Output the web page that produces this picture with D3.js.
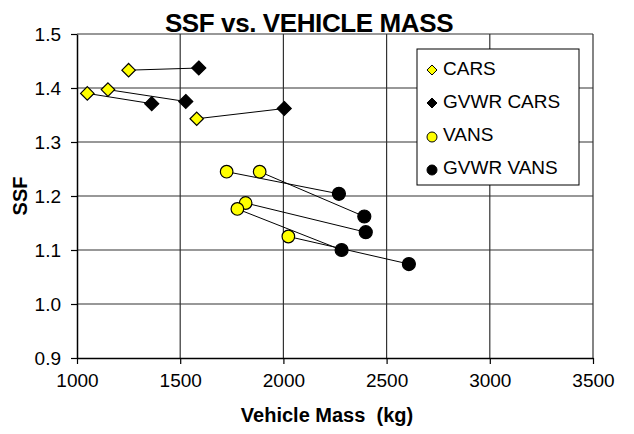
<!DOCTYPE html>
<html>
<head>
<meta charset="utf-8">
<script src="https://cdn.jsdelivr.net/npm/d3@7"></script>
<style>
  body { margin: 0; background: #fff; }
  svg text { font-family: Arial, "Liberation Sans", sans-serif; }
</style>
</head>
<body>
<div id="chart"></div>
<script>
// data
var carsMass = [1250, 1050, 1150, 1580];
var carsSSF = [1.433, 1.390, 1.397, 1.343];
var gvwrCarsMass = [1590, 1362, 1527, 2004];
var gvwrCarsSSF = [1.437, 1.371, 1.375, 1.362];
var vansMass = [1725, 1885, 1817, 1777, 2024];
var vansSSF = [1.245, 1.245, 1.187, 1.176, 1.125];
var gvwrVansMass = [2269, 2392, 2399, 2282, 2608];
var gvwrVansSSF = [1.204, 1.162, 1.133, 1.100, 1.074];

var xTicks = [1000, 1500, 2000, 2500, 3000, 3500];
var yTicks = [0.9, 1.0, 1.1, 1.2, 1.3, 1.4, 1.5];
var legendLabels = ["CARS", "GVWR CARS", "VANS", "GVWR VANS"];

var W = 634, H = 434;
var margin = {top: 34, right: 41, bottom: 76, left: 77},
    width = W - margin.left - margin.right,
    height = H - margin.top - margin.bottom;

var svg = d3.select("#chart").append("svg")
    .attr("width", W)
    .attr("height", H);

var g = svg.append("g")
    .attr("transform", "translate(" + margin.left + "," + margin.top + ")");

var x = d3.scaleLinear().domain([1000, 3500]).range([0, width]);
var y = d3.scaleLinear().domain([0.9, 1.5]).range([height, 0]);

// grid
g.selectAll(".hgrid")
    .data(yTicks.slice(1))
    .enter().append("line")
    .attr("x1", 0).attr("x2", width)
    .attr("y1", function(d) { return y(d); })
    .attr("y2", function(d) { return y(d); })
    .attr("stroke", "#333").attr("stroke-width", 1.2);

g.selectAll(".vgrid")
    .data(xTicks.slice(1))
    .enter().append("line")
    .attr("y1", 0).attr("y2", height)
    .attr("x1", function(d) { return x(d); })
    .attr("x2", function(d) { return x(d); })
    .attr("stroke", "#333").attr("stroke-width", 1.2);

// axes
var xAxis = g.append("g")
    .attr("transform", "translate(0," + height + ")")
    .call(d3.axisBottom(x).tickValues(xTicks).tickFormat(d3.format("d"))
        .tickSize(6).tickSizeOuter(0).tickPadding(10));
var yAxis = g.append("g")
    .call(d3.axisLeft(y).tickValues(yTicks).tickFormat(d3.format(".1f"))
        .tickSize(6).tickSizeOuter(0).tickPadding(10));

[xAxis, yAxis].forEach(function(a) {
    a.select(".domain").attr("stroke", "#000").attr("stroke-width", 1.5);
    a.selectAll(".tick line").attr("stroke", "#000").attr("stroke-width", 1.2);
    a.selectAll("text")
        .attr("font-family", "Arial, 'Liberation Sans', sans-serif")
        .attr("font-size", 19)
        .attr("fill", "#000");
});
yAxis.selectAll("text").attr("dy", "0.35em");

// pair lines
function pairs(ax, ay, bx, by) {
    return ax.map(function(d, i) { return [[d, ay[i]], [bx[i], by[i]]]; });
}
var links = pairs(carsMass, carsSSF, gvwrCarsMass, gvwrCarsSSF)
    .concat(pairs(vansMass, vansSSF, gvwrVansMass, gvwrVansSSF));

g.selectAll(".link")
    .data(links)
    .enter().append("line")
    .attr("x1", function(d) { return x(d[0][0]); })
    .attr("y1", function(d) { return y(d[0][1]); })
    .attr("x2", function(d) { return x(d[1][0]); })
    .attr("y2", function(d) { return y(d[1][1]); })
    .attr("stroke", "#000").attr("stroke-width", 1);

var diamond = d3.symbol().type(d3.symbolDiamond2);

function drawDiamonds(xs, ys, fill, size) {
    g.selectAll(null)
        .data(xs)
        .enter().append("path")
        .attr("d", diamond.size(size)())
        .attr("transform", function(d, i) { return "translate(" + x(d) + "," + y(ys[i]) + ")"; })
        .attr("fill", fill)
        .attr("stroke", "#000").attr("stroke-width", 1.2);
}
function drawCircles(xs, ys, fill, r) {
    g.selectAll(null)
        .data(xs)
        .enter().append("circle")
        .attr("cx", function(d) { return x(d); })
        .attr("cy", function(d, i) { return y(ys[i]); })
        .attr("r", r)
        .attr("fill", fill)
        .attr("stroke", "#000").attr("stroke-width", 1.2);
}

drawDiamonds(carsMass, carsSSF, "#ffff00", 115);
drawDiamonds(gvwrCarsMass, gvwrCarsSSF, "#000", 125);
drawCircles(vansMass, vansSSF, "#ffff00", 6.3);
drawCircles(gvwrVansMass, gvwrVansSSF, "#000", 6.5);

// title and axis labels
svg.append("text")
    .attr("x", 309).attr("y", 32)
    .attr("text-anchor", "middle")
    .attr("font-size", 26).attr("font-weight", "bold")
    .attr("letter-spacing", "-0.4")
    .text("SSF vs. VEHICLE MASS");

svg.append("text")
    .attr("x", 327).attr("y", 422)
    .attr("text-anchor", "middle")
    .attr("font-size", 20).attr("font-weight", "bold")
    .attr("xml:space", "preserve")
    .style("white-space", "pre")
    .text("Vehicle Mass  (kg)");

svg.append("text")
    .attr("transform", "translate(27,196) rotate(-90)")
    .attr("text-anchor", "middle")
    .attr("font-size", 20).attr("font-weight", "bold")
    .text("SSF");

// legend
var legend = svg.append("g").attr("transform", "translate(417,49)");
legend.append("rect")
    .attr("width", 162).attr("height", 136)
    .attr("fill", "#fff")
    .attr("stroke", "#000").attr("stroke-width", 1);

var items = legend.selectAll(".item")
    .data(legendLabels)
    .enter().append("g")
    .attr("transform", function(d, i) { return "translate(0," + (19 + i * 33) + ")"; });

items.each(function(d, i) {
    var it = d3.select(this);
    var fill = (i % 2 === 0) ? "#ffff00" : "#000";
    if (i < 2) {
        it.append("path")
            .attr("d", d3.symbol().type(d3.symbolDiamond2).size(64)())
            .attr("transform", "translate(15,2)")
            .attr("fill", fill).attr("stroke", "#000").attr("stroke-width", 1);
    } else {
        it.append("circle")
            .attr("cx", 15).attr("cy", 3).attr("r", 5)
            .attr("fill", fill).attr("stroke", "#000").attr("stroke-width", 1);
    }
    it.append("text")
        .attr("x", 26).attr("y", 0)
        .attr("dy", "0.35em")
        .attr("font-size", 19)
        .text(d);
});
</script>
</body>
</html>
